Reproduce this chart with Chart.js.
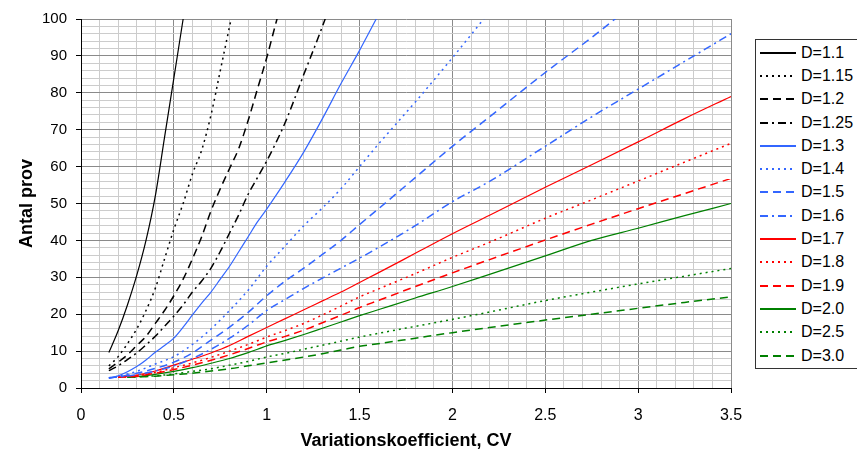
<!DOCTYPE html>
<html>
<head>
<meta charset="utf-8">
<script src="https://cdn.jsdelivr.net/npm/chart.js@4/dist/chart.umd.min.js"></script>
<style>
  html, body { margin: 0; padding: 0; background: #fff; }
  #wrap { position: relative; width: 857px; height: 452px; overflow: hidden; }
  #legend {
    position: absolute; left: 755px; top: 39px; width: 120px; height: 330px;
    border: 1px solid #333; background: #fff; box-sizing: border-box;
    padding-top: 1px; font-family: "Liberation Sans", Arial, sans-serif; font-size: 16px; color: #000;
  }
  #legend .row { height: 23.3px; display: flex; align-items: center; }
  #legend svg { margin-left: 4px; margin-right: 5px; }
</style>
</head>
<body>
<div id="wrap">
  <canvas id="chart" width="857" height="452"></canvas>
  <div id="legend"></div>
</div>
<script>
// Variationskoefficient (x)
var N = null;
var cv = [0.15, 0.2, 0.25, 0.3, 0.35, 0.4, 0.45, 0.5, 0.55, 0.6, 0.65, 0.7, 0.75, 0.8, 0.85, 0.9, 0.95, 1.0, 1.05, 1.1,
          1.2, 1.3, 1.4, 1.5, 1.6, 1.8, 2.0, 2.2, 2.5, 2.75, 3.0, 3.25, 3.5];

// Antal prov for each D
var d110 = [9.6, 15.5, 22.5, 30.5, 40, 52, 68, 84, 100, 117, N, N, N, N, N, N, N, N, N, N, N, N, N, N, N, N, N, N, N, N, N, N, N];
var d115 = [6, 8.5, 12, 16, 21, 27, 35, 43, 50, 58, 64.5, 74, 86, 98, 110, N, N, N, N, N, N, N, N, N, N, N, N, N, N, N, N, N, N];
var d120 = [5.2, 7, 9, 11.5, 14, 17.5, 21, 25, 29.5, 35, 41, 48, 54, 59.5, 65, 72.5, 81, 89.5, 99, 108, N, N, N, N, N, N, N, N, N, N, N, N, N];
var d125 = [4.7, 6, 7.7, 9.5, 11.7, 14, 16.7, 19.5, 22.5, 26, 29, 32.5, 37, 42, 47, 52.5, 57, 61.5, 66.5, 72, 85, 98, 112, N, N, N, N, N, N, N, N, N, N];
var d130 = [2.6, 3.3, 4.4, 5.8, 7.6, 9.7, 11.5, 13.5, 16.5, 19.8, 23, 26, 29.5, 33, 37, 41, 45, 48.5, 52.2, 56, 64, 73, 82.5, 91.5, 101, N, N, N, N, N, N, N, N];
var d140 = [2.8, 3.2, N, 4.5, N, 6.5, N, 8.5, N, 11.8, N, 16, N, 21, N, 26.5, N, 33, N, 38.5, 44, 48.8, 54, 60, 66, 77.5, 89.5, 102, N, N, N, N, N];
var d150 = [2.8, 3, N, 4, N, 5.3, N, 7, N, 9.5, N, 13, N, 16.5, N, 20.5, N, 25, N, 29, 32.5, 36.2, 40, 44.3, 48.5, 57, 65.5, 73.5, 85.5, 95, 105, N, N];
var d160 = [2.8, 3, N, 3.6, N, 4.6, N, 6, N, 8, N, 10.5, N, 13.5, N, 17, N, 21, N, 24, 27, 29.8, 32.5, 35.2, 38, 44, 50.5, 56, 65.5, 73.5, 81, 88.5, 96];
var d170 = [N, 2.9, N, 3.5, N, 4.6, N, 6.2, N, 7.8, N, 9.5, N, 11.5, N, 14, N, 16.4, N, 18.8, 21.2, 23.6, 26, 28.6, 31.2, 36.5, 41.8, 46.8, 54.4, 60.5, 66.7, 73, 79];
var d180 = [N, 2.9, N, 3.3, N, 4.2, N, 5.5, N, 6.8, N, 8.3, N, 10, N, 11.8, N, 13.8, N, 15.6, 17.5, 19.8, 22.2, 24.7, 26.8, 31, 35.4, 39.5, 46, 51, 56.1, 61.2, 66.3];
var d190 = [N, 2.9, N, 3.2, N, 4, N, 5, N, 6.2, N, 7.5, N, 9, N, 10.7, N, 12.5, N, 14, 15.7, 17.7, 19.7, 21.8, 23.7, 27.5, 31.2, 34.8, 40.1, 44.4, 48.6, 52.7, 56.8];
var d200 = [N, N, 2.9, 3.1, N, 3.7, N, 4.5, N, 5.5, N, 6.7, N, 8, N, 9.6, N, 11.4, N, 12.9, 14.5, 16.2, 17.9, 19.6, 21.2, 24.4, 27.5, 30.8, 35.8, 40, 43.3, 46.7, 50];
var d250 = [N, N, 2.9, 3, N, 3.3, N, 3.8, N, 4.5, N, 5.2, N, 6.2, N, 7.2, N, 8.4, N, 9.4, 10.5, 11.6, 12.7, 13.8, 14.8, 16.7, 18.6, 20.6, 23.7, 26, 28.2, 30.3, 32.4];
var d300 = [N, N, 2.9, 3, N, 3.2, N, 3.6, N, 4, N, 4.6, N, 5.2, N, 6, N, 6.8, N, 7.6, 8.4, 9.3, 10.3, 11.3, 12, 13.5, 15, 16.4, 18.4, 20, 21.6, 23.2, 24.7];

var names = ['D=1.1', 'D=1.15', 'D=1.2', 'D=1.25', 'D=1.3', 'D=1.4', 'D=1.5', 'D=1.6', 'D=1.7', 'D=1.8', 'D=1.9', 'D=2.0', 'D=2.5', 'D=3.0'];
var values = [d110, d115, d120, d125, d130, d140, d150, d160, d170, d180, d190, d200, d250, d300];

// styles
var black = '#000000', blue = '#3366ff', red = '#ff0000', green = '#008000';
var solid = [], dot = [2, 4], dash = [8, 5], dashDot = [8, 4, 2, 4];
var lineColors = [black, black, black, black, blue, blue, blue, blue, red, red, red, green, green, green];
var lineDashes = [solid, dot, dash, dashDot, solid, dot, dash, dashDot, solid, dot, dash, solid, dot, dash];

var datasets = names.map(function (name, i) {
    var pts = [];
    cv.forEach(function (x, j) {
        if (values[i][j] !== null) pts.push({ x: x, y: values[i][j] });
    });
    return {
        label: name,
        data: pts,
        borderColor: lineColors[i],
        borderDash: lineDashes[i],
        borderWidth: lineDashes[i].length ? 1.5 : 1.2,
        pointRadius: 0,
        fill: false,
        cubicInterpolationMode: 'monotone'
    };
});

function near(v, step) {
    return Math.abs(v / step - Math.round(v / step)) < 1e-6;
}

var font = "'Liberation Sans', Arial, sans-serif";

new Chart(document.getElementById('chart'), {
    type: 'line',
    data: { datasets: datasets },
    options: {
        responsive: false,
        animation: false,
        devicePixelRatio: 1,
        layout: { padding: { top: 19, right: 126, bottom: 0, left: 0 } },
        plugins: { legend: { display: false }, tooltip: { enabled: false } },
        scales: {
            x: {
                type: 'linear', min: 0, max: 3.5,
                afterFit: function (s) { s.height = 64; },
                ticks: {
                    stepSize: 0.1, autoSkip: false, maxRotation: 0, padding: 13,
                    color: '#000', font: { family: font, size: 16 },
                    callback: function (v) { return near(v, 0.5) ? String(Math.round(v * 10) / 10) : ''; }
                },
                grid: {
                    color: function (c) { return c.tick && near(c.tick.value, 0.5) ? '#8a8a8a' : '#cccccc'; },
                    tickColor: function (c) { return c.tick && near(c.tick.value, 0.5) ? '#000' : 'rgba(0,0,0,0)'; },
                    tickLength: 5
                },
                border: { color: '#000', width: 1 },
                title: {
                    display: true, text: 'Variationskoefficient, CV', color: '#000',
                    font: { family: font, size: 18, weight: 'bold' }, padding: { top: 0, bottom: 0 }
                }
            },
            y: {
                min: 0, max: 100,
                afterFit: function (s) { s.width = 81; },
                ticks: {
                    stepSize: 2, autoSkip: false, padding: 9,
                    color: '#000', font: { family: font, size: 15 },
                    callback: function (v) { return near(v, 10) ? String(v) : ''; }
                },
                grid: {
                    color: function (c) { return c.tick && near(c.tick.value, 10) ? '#8a8a8a' : '#cccccc'; },
                    tickColor: function (c) { return c.tick && near(c.tick.value, 10) ? '#000' : 'rgba(0,0,0,0)'; },
                    tickLength: 5
                },
                border: { color: '#000', width: 1 },
                title: {
                    display: true, text: 'Antal prov', color: '#000',
                    font: { family: font, size: 18, weight: 'bold' }, padding: { top: 16, bottom: 0 }
                }
            }
        }
    }
});

// legend box on the right
var legend = document.getElementById('legend');
names.forEach(function (name, i) {
    var row = document.createElement('div');
    row.className = 'row';
    var dashAttr = lineDashes[i].length ? ' stroke-dasharray="' + lineDashes[i].join(' ') + '"' : '';
    row.innerHTML = '<svg width="36" height="4"><line x1="0" y1="2" x2="36" y2="2" stroke="' + lineColors[i] +
        '" stroke-width="2"' + dashAttr + '/></svg><span>' + name + '</span>';
    legend.appendChild(row);
});
</script>
</body>
</html>
